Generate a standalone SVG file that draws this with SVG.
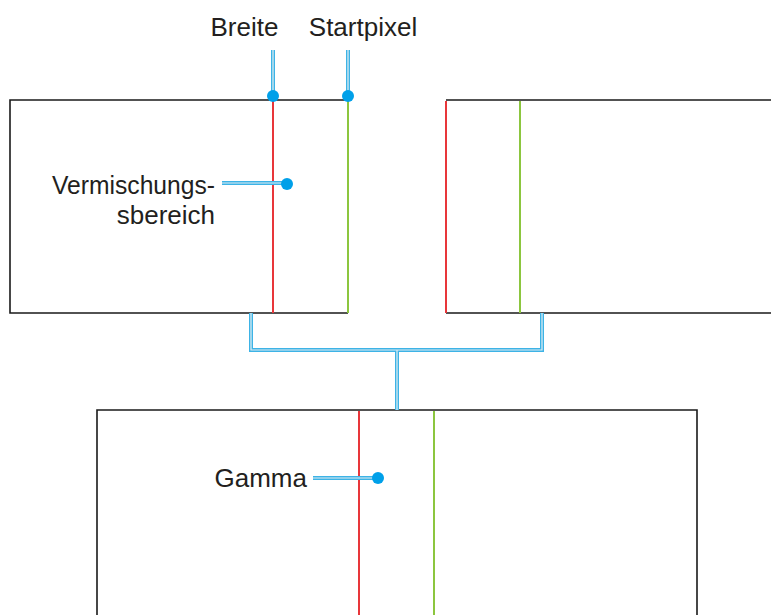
<svg xmlns="http://www.w3.org/2000/svg" width="771" height="615" viewBox="0 0 771 615">
<style>
.frame{stroke:#1a1a1a;stroke-width:1.6;fill:none}
.red{stroke:#e8363a;stroke-width:2;fill:none}
.green{stroke:#8cc63f;stroke-width:2;fill:none}
.cout{stroke:#3db3e6;stroke-width:4;fill:none}
.cin{stroke:#e4eef2;stroke-width:1.2;fill:none}
.dot{fill:#00a0e9}
.lbl{font-family:"Liberation Sans",Arial,sans-serif;font-size:26px;fill:#231f20}
</style>
<rect width="771" height="615" fill="#ffffff"/>
<g id="box-left">
<path class="frame" d="M348,100 H10 V313 H348"/>
<line class="red" x1="273" y1="101" x2="273" y2="313"/>
<line class="green" x1="348" y1="101" x2="348" y2="313"/>
</g>
<g id="box-right">
<path class="frame" d="M771,100 H446 M446,313 H771"/>
<line class="red" x1="446" y1="101" x2="446" y2="313"/>
<line class="green" x1="520" y1="101" x2="520" y2="313"/>
</g>
<g id="box-bottom">
<path class="frame" d="M97,615 V410 H697 V615"/>
<line class="red" x1="359" y1="411" x2="359" y2="615"/>
<line class="green" x1="434" y1="411" x2="434" y2="615"/>
</g>
<g id="connectors">
<path class="cout" d="M273,50 V96 M348,50 V96 M222,183 H287 M313,478 H378 M251,313 V350 H542 V313 M397,350 V410"/>
<path class="cin" d="M273,50 V96 M348,50 V96 M222,183 H287 M313,478 H378 M251,313 V350 H542 V313 M397,350 V410"/>
<circle class="dot" cx="273" cy="96" r="6"/>
<circle class="dot" cx="348" cy="96" r="6"/>
<circle class="dot" cx="287" cy="184" r="6"/>
<circle class="dot" cx="378" cy="478" r="6"/>
</g>
<g id="label-breite"><text class="lbl" x="244.5" y="36" text-anchor="middle">Breite</text></g>
<g id="label-startpixel"><text class="lbl" x="363" y="36" text-anchor="middle">Startpixel</text></g>
<g id="label-vermischung"><text class="lbl" x="52" y="194" textLength="163" lengthAdjust="spacingAndGlyphs">Vermischungs-</text><text class="lbl" x="215" y="224" text-anchor="end">sbereich</text></g>
<g id="label-gamma"><text class="lbl" x="307" y="487" text-anchor="end">Gamma</text></g>
</svg>
